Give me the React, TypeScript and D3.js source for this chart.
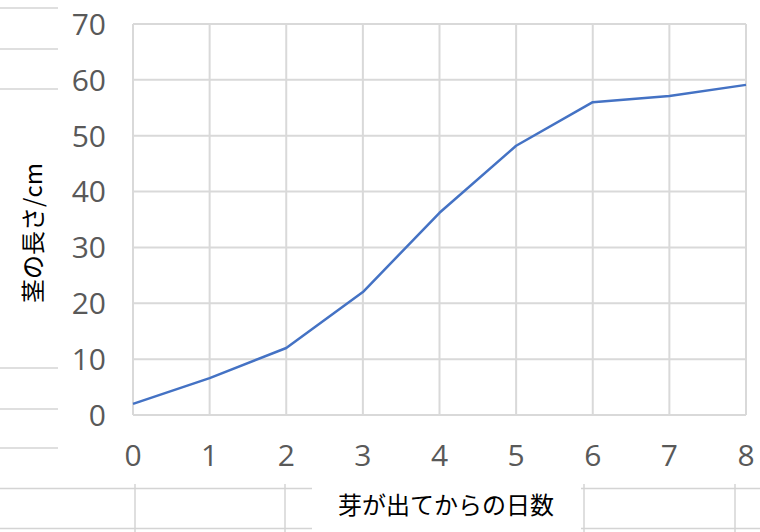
import { useRef, useEffect } from "react";
import * as d3 from "d3";

// days after sprouting vs. stem length (cm)
const days = [0, 1, 2, 3, 4, 5, 6, 7, 8];
const stemLength = [2.0, 6.6, 12.0, 22.0, 36.2, 48.2, 56.0, 57.1, 59.1];
const yTicks = [0, 10, 20, 30, 40, 50, 60, 70];

const xTitle = "芽が出てからの日数";
const yTitle = "茎の長さ/cm";

const W = 760;
const H = 532;
const margin = { left: 133, right: 14, top: 24, bottom: 117 };

const cellColor = "#d4d4d4";

export default function App() {
    const ref = useRef<SVGSVGElement>(null);

    useEffect(() => {
        if (!ref.current) return;
        const svg = d3.select(ref.current);
        svg.selectAll("*").remove();

        // spreadsheet cells peeking out behind the chart object
        const bg = svg.append("g").attr("stroke", cellColor).attr("stroke-width", 1.5);
        [8, 49, 89, 368, 409, 448].forEach(y => {
            bg.append("line").attr("x1", 0).attr("x2", 58).attr("y1", y).attr("y2", y);
        });
        [488.5, 528.5].forEach(y => {
            bg.append("line").attr("x1", 0).attr("x2", 312).attr("y1", y).attr("y2", y);
            bg.append("line").attr("x1", 581).attr("x2", W).attr("y1", y).attr("y2", y);
        });
        [135, 285, 584, 735].forEach(x => {
            bg.append("line").attr("x1", x).attr("x2", x).attr("y1", 484).attr("y2", H);
        });

        const x = d3.scaleLinear()
            .domain([0, 8])
            .range([margin.left, W - margin.right]);
        const y = d3.scaleLinear()
            .domain([0, 70])
            .range([H - margin.bottom, margin.top]);

        const grid = svg.append("g").attr("stroke", "#d9d9d9").attr("stroke-width", 2);
        grid.selectAll("line.v")
            .data(days)
            .join("line")
            .attr("class", "v")
            .attr("x1", d => x(d)).attr("x2", d => x(d))
            .attr("y1", y(70)).attr("y2", y(0));
        grid.selectAll("line.h")
            .data(yTicks)
            .join("line")
            .attr("class", "h")
            .attr("x1", x(0)).attr("x2", x(8))
            .attr("y1", d => y(d)).attr("y2", d => y(d));

        const labelFont = "'Open Sans', 'Noto Sans', sans-serif";

        svg.append("g")
            .selectAll("text")
            .data(yTicks)
            .join("text")
            .attr("x", 106)
            .attr("y", d => y(d))
            .attr("dy", "0.36em")
            .attr("text-anchor", "end")
            .attr("font-family", labelFont)
            .attr("font-size", 30)
            .attr("fill", "#595959")
            .text(d => d);

        svg.append("g")
            .selectAll("text")
            .data(days)
            .join("text")
            .attr("x", d => x(d))
            .attr("y", 455)
            .attr("dy", "0.36em")
            .attr("text-anchor", "middle")
            .attr("font-family", labelFont)
            .attr("font-size", 30)
            .attr("fill", "#595959")
            .text(d => d);

        const line = d3.line<number>()
            .x((_, i) => x(days[i]))
            .y(d => y(d));

        svg.append("path")
            .datum(stemLength)
            .attr("fill", "none")
            .attr("stroke", "#4472c4")
            .attr("stroke-width", 2.5)
            .attr("stroke-linejoin", "round")
            .attr("d", line);

        const titleFont = "'Noto Sans CJK JP', 'Noto Sans', sans-serif";

        svg.append("text")
            .attr("x", 446)
            .attr("y", 506)
            .attr("dy", "0.35em")
            .attr("text-anchor", "middle")
            .attr("font-family", titleFont)
            .attr("font-size", 24)
            .attr("fill", "#000")
            .text(xTitle);

        svg.append("text")
            .attr("transform", "translate(34,233) rotate(-90)")
            .attr("dy", "0.35em")
            .attr("text-anchor", "middle")
            .attr("font-family", titleFont)
            .attr("font-size", 24)
            .attr("fill", "#000")
            .text(yTitle);
    }, []);

    return (
        <svg
            ref={ref}
            width={W}
            height={H}
            style={{ position: "absolute", left: 0, top: 0, background: "#fff" }}
        />
    );
}
